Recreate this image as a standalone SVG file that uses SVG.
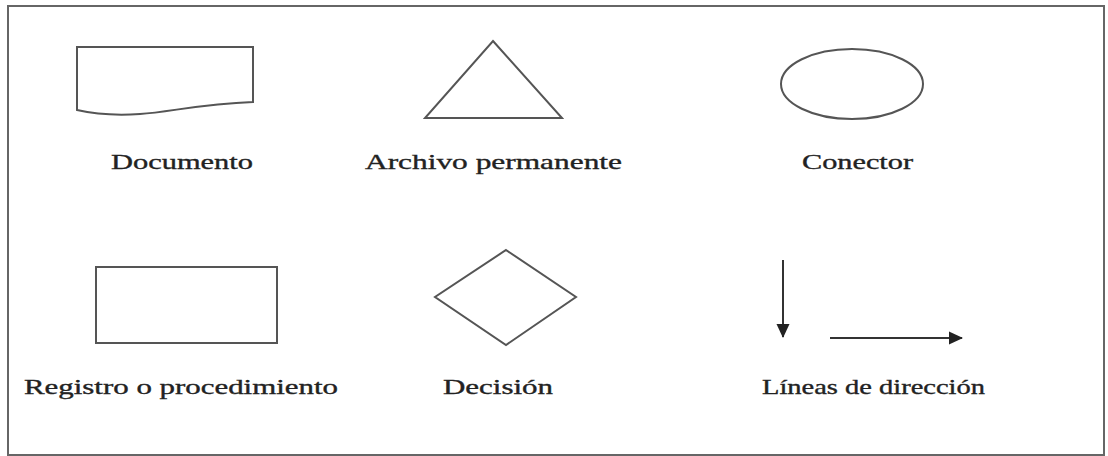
<svg xmlns="http://www.w3.org/2000/svg" width="1108" height="456" viewBox="0 0 1108 456">
<defs>
<marker id="ah" markerWidth="14" markerHeight="14" refX="13" refY="7" orient="auto" markerUnits="userSpaceOnUse">
<path d="M0,0.5 L14,7 L0,13.5 Z" fill="#222"/>
</marker>
<style>
.s{fill:#fff;stroke:#555;stroke-width:2}
.c{stroke:#333;stroke-width:2;fill:none}
.t{font-family:"Liberation Serif","Times New Roman","DejaVu Serif",serif;font-size:21px;fill:#222;stroke:#222;stroke-width:0.35;text-anchor:start}
</style>
</defs>
<rect x="0" y="0" width="1108" height="456" fill="#fff"/>
<rect x="8" y="6" width="1096" height="449" fill="none" stroke="#666" stroke-width="2"/>
<g id="documento">
<path class="s" d="M77,47 L253,47 L253,102 C200,104 170,112 140,114 C110,116 90,113 77,110 Z"/>
<text class="t" x="111" y="169" textLength="142" lengthAdjust="spacingAndGlyphs">Documento</text>
</g>
<g id="archivo">
<path class="s" d="M493,41 L562,118 L425,118 Z"/>
<text class="t" x="365" y="169" textLength="257" lengthAdjust="spacingAndGlyphs">Archivo permanente</text>
</g>
<g id="conector">
<ellipse class="s" cx="852" cy="84" rx="71" ry="35"/>
<text class="t" x="802" y="169" textLength="111" lengthAdjust="spacingAndGlyphs">Conector</text>
</g>
<g id="registro">
<rect class="s" x="96" y="267" width="181" height="76"/>
<text class="t" x="24" y="394" textLength="314" lengthAdjust="spacingAndGlyphs">Registro o procedimiento</text>
</g>
<g id="decision">
<path class="s" d="M506,250 L576,297 L506,345 L435,297 Z"/>
<text class="t" x="443" y="394" textLength="110" lengthAdjust="spacingAndGlyphs">Decisión</text>
</g>
<g id="lineas">
<text class="t" x="762" y="394" textLength="223" lengthAdjust="spacingAndGlyphs">Líneas de dirección</text>
</g>
<g id="connectors">
<line class="c" x1="783" y1="260" x2="783" y2="337" marker-end="url(#ah)"/>
<line class="c" x1="830" y1="338" x2="962" y2="338" marker-end="url(#ah)"/>
</g>
</svg>
